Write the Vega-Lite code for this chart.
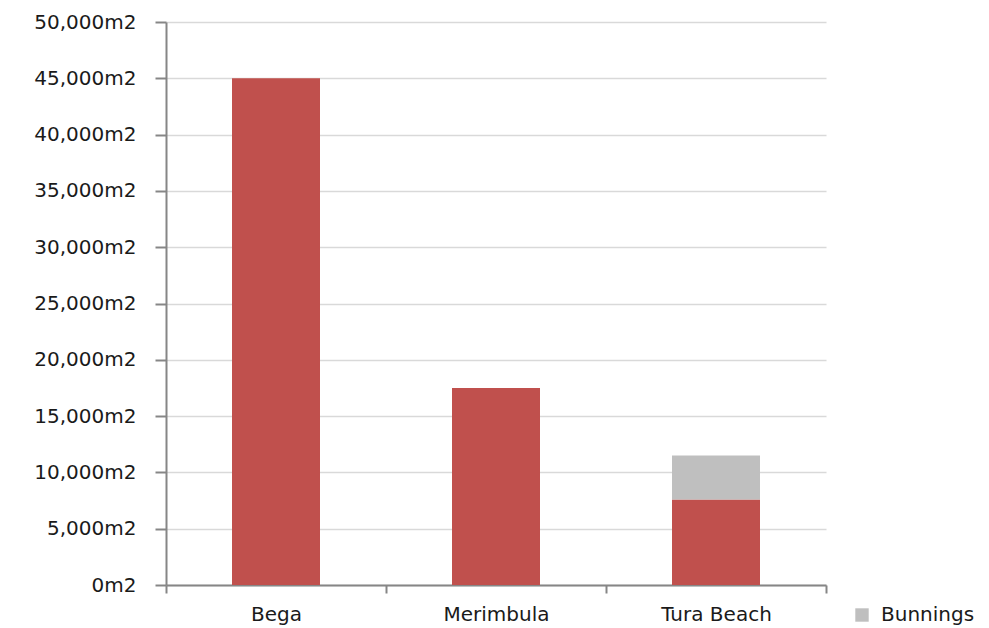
{
  "$schema": "https://vega.github.io/schema/vega-lite/v6.json",
  "width": 660,
  "height": 563,
  "autosize": {"type": "none"},
  "padding": {"left": 166, "top": 22, "right": 163, "bottom": 43},
  "background": "white",
  "data": {
    "values": [
      {"town": "Bega", "series": "Retail floorspace", "area": 45000},
      {"town": "Merimbula", "series": "Retail floorspace", "area": 17500},
      {"town": "Tura Beach", "series": "Retail floorspace", "area": 7600},
      {"town": "Tura Beach", "series": "Bunnings", "area": 3900}
    ]
  },
  "mark": {"type": "bar", "width": {"band": 0.4}},
  "encoding": {
    "x": {
      "field": "town",
      "type": "nominal",
      "sort": ["Bega", "Merimbula", "Tura Beach"],
      "scale": {"paddingInner": 0, "paddingOuter": 0},
      "axis": {
        "title": null,
        "labelAngle": 0,
        "tickBand": "extent",
        "tickSize": 8,
        "tickColor": "#868686",
        "tickWidth": 2,
        "domainColor": "#868686",
        "domainWidth": 2,
        "labelFont": "DejaVu Sans",
        "labelFontSize": 20,
        "labelColor": "#1a1a1a",
        "labelPadding": 11,
        "grid": false
      }
    },
    "y": {
      "field": "area",
      "type": "quantitative",
      "stack": "zero",
      "scale": {"domain": [0, 50000], "nice": false},
      "axis": {
        "title": null,
        "values": [0, 5000, 10000, 15000, 20000, 25000, 30000, 35000, 40000, 45000, 50000],
        "labelExpr": "format(datum.value, ',') + 'm2'",
        "labelFont": "DejaVu Sans",
        "labelFontSize": 20,
        "labelColor": "#1a1a1a",
        "labelPadding": 19,
        "tickSize": 11,
        "tickColor": "#868686",
        "tickWidth": 2,
        "domainColor": "#868686",
        "domainWidth": 2,
        "gridColor": "#d9d9d9",
        "gridWidth": 1.5
      }
    },
    "color": {
      "field": "series",
      "type": "nominal",
      "scale": {"domain": ["Retail floorspace", "Bunnings"], "range": ["#c0504d", "#bfbfbf"]},
      "legend": {
        "title": null,
        "values": ["Bunnings"],
        "orient": "none",
        "legendX": 686,
        "legendY": 583,
        "symbolType": "square",
        "symbolSize": 180,
        "symbolStrokeWidth": 0,
        "labelFont": "DejaVu Sans",
        "labelFontSize": 20,
        "labelColor": "#1a1a1a",
        "labelOffset": 9
      }
    },
    "order": {"field": "series", "sort": "descending"}
  },
  "config": {"view": {"stroke": null}}
}
